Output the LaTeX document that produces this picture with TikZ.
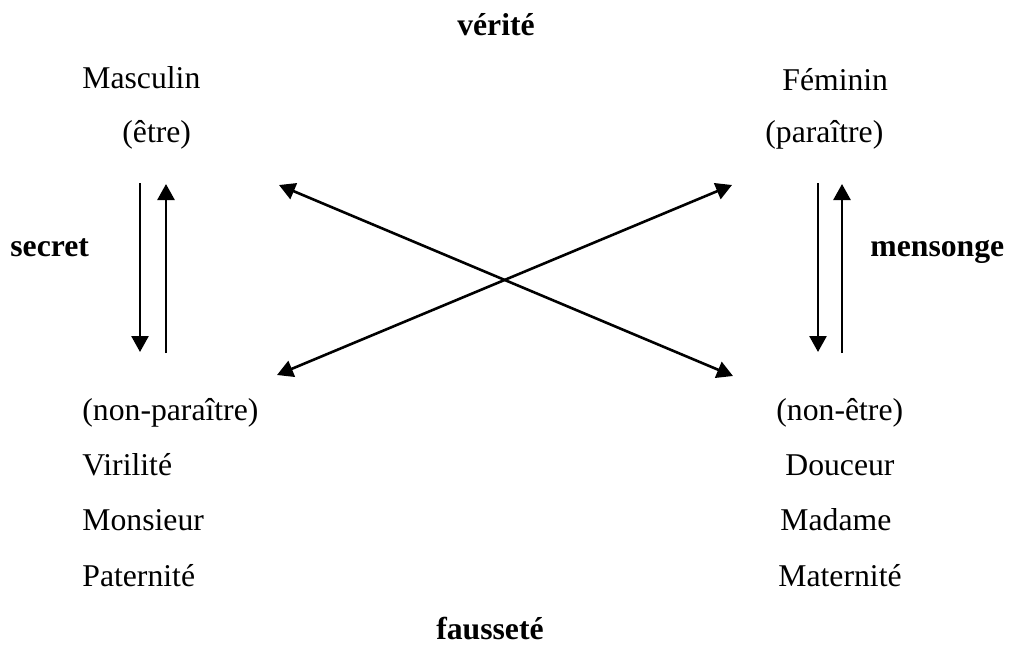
\documentclass[tikz,border=0pt]{standalone}
\usepackage{fontspec}
\setmainfont{Liberation Serif}
\usepackage{tikz}
\usetikzlibrary{arrows.meta}

\begin{document}
\begin{tikzpicture}[
  x=0.5pt, y=-0.5pt,
  font=\fontsize{15.85}{19}\selectfont,
  term/.style={inner sep=0pt, anchor=base west},
  pole/.style={inner sep=0pt, anchor=base, font=\fontsize{15.85}{19}\selectfont\bfseries},
  arr/.style={-{Triangle[length=8pt, width=8.5pt]}, line width=1.3pt},
  darr/.style={{Triangle[length=8pt, width=8.5pt]}-{Triangle[length=8pt, width=8.5pt]}, line width=1.3pt}
]
  \useasboundingbox (0,0) rectangle (1018,644);
  % poles
  \node[pole] (verite) at (496,35) {vérité};
  \node[pole] (faussete) at (490,639) {fausseté};
  \node[pole, anchor=base west] (secret) at (10,256) {secret};
  \node[pole, anchor=base west] (mensonge) at (870,256) {mensonge};
  % left column
  \node[term] (masc) at (82,88) {Masculin};
  \node[term] (etre) at (122,142) {(être)};
  \node[term] (nonpar) at (82,420) {(non-paraître)};
  \node[term] (viril) at (82,475) {Virilité};
  \node[term] (monsieur) at (82,530) {Monsieur};
  \node[term] (patern) at (82,586) {Paternité};
  % right column
  \node[term] (femin) at (782,90) {Féminin};
  \node[term] (paraitre) at (765,142) {(paraître)};
  \node[term] (nonetre) at (776,420) {(non-être)};
  \node[term] (douceur) at (785,475) {Douceur};
  \node[term] (madame) at (780,530) {Madame};
  \node[term] (matern) at (778,586) {Maternité};
  % arrow ends
  \coordinate (lt1) at (140,183);
  \coordinate (lb1) at (140,352);
  \coordinate (lt2) at (166,184);
  \coordinate (lb2) at (166,353);
  \coordinate (rt1) at (818,183);
  \coordinate (rb1) at (818,352);
  \coordinate (rt2) at (842,184);
  \coordinate (rb2) at (842,353);
  \coordinate (xtl) at (279,185);
  \coordinate (xbr) at (733,376);
  \coordinate (xbl) at (277,375);
  \coordinate (xtr) at (732,185);
  \draw[arr] (lt1) -- (lb1);
  \draw[arr] (lb2) -- (lt2);
  \draw[arr] (rt1) -- (rb1);
  \draw[arr] (rb2) -- (rt2);
  \draw[darr] (xtl) -- (xbr);
  \draw[darr] (xbl) -- (xtr);
\end{tikzpicture}
\end{document}
